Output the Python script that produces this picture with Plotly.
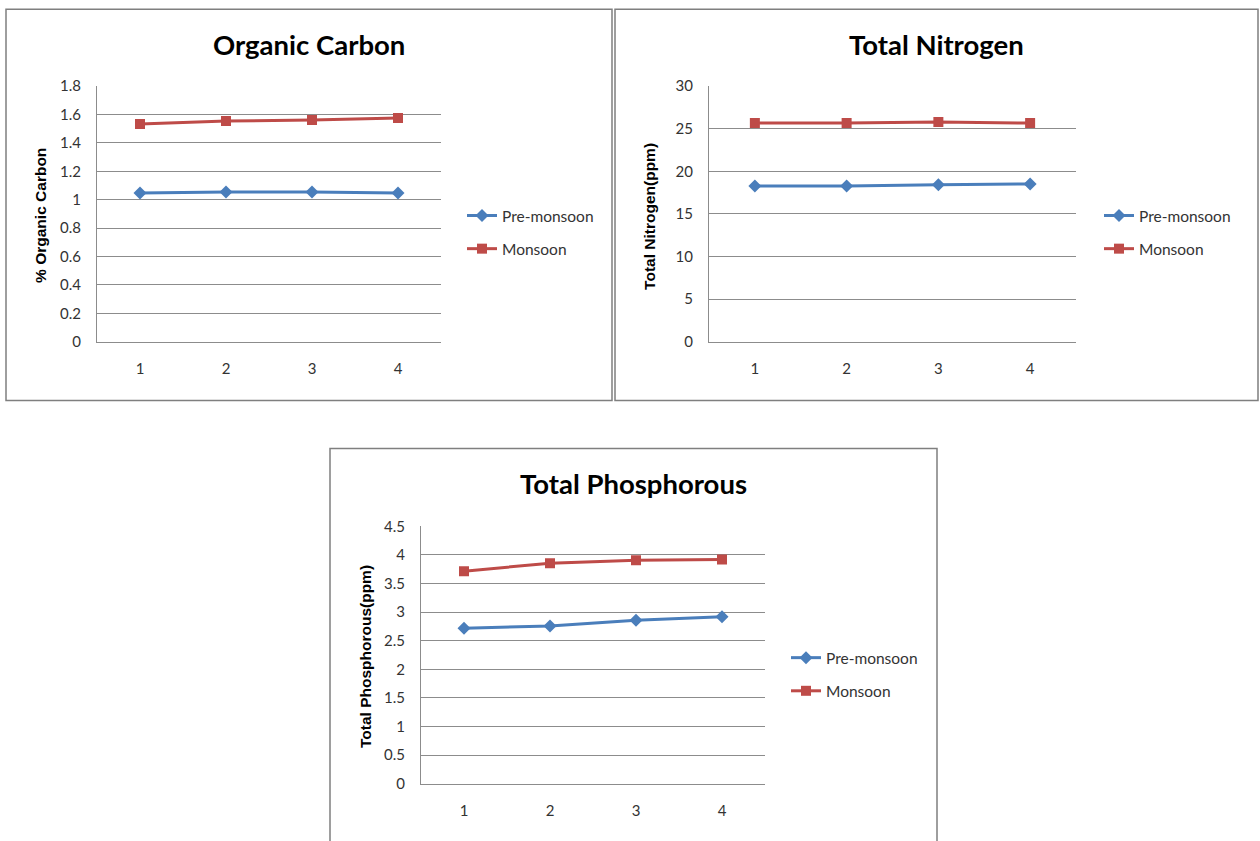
import plotly.graph_objects as go

W, H = 1260, 841

categories = [1, 2, 3, 4]
tick_labels = ["1", "2", "3", "4"]

series_names = ["Pre-monsoon", "Monsoon"]

oc_pre = [1.048, 1.054, 1.054, 1.048]
oc_mon = [1.533, 1.554, 1.561, 1.575]

tn_pre = [18.28, 18.28, 18.42, 18.52]
tn_mon = [25.66, 25.66, 25.78, 25.66]

tp_pre = [2.72, 2.756, 2.86, 2.92]
tp_mon = [3.715, 3.855, 3.905, 3.92]

titles = ["Organic Carbon", "Total Nitrogen", "Total Phosphorous"]
ytitles = ["% Organic Carbon", "Total Nitrogen(ppm)", "Total Phosphorous(ppm)"]
yranges = [(0, 1.8, 0.2), (0, 30, 5), (0, 4.5, 0.5)]

BLUE = "#4A7EBB"
RED = "#BE4B48"
GRID = "#8C8C8C"
TXT = "#333333"
FONT = "Lato, Open Sans, sans-serif"

# the rendered page maps paper height onto ~824.6 px starting ~8.7 px down
Y_OFF, Y_SPAN = 8.7, 824.6


def px(x):
    return x / W


def py(y):
    return 1 - (y - Y_OFF) / Y_SPAN


# plot-area boxes in pixels: left, right, top, bottom
boxes = [(97, 441, 85, 341), (709, 1076, 85, 341), (421, 765, 526, 784)]
panels = [(6, 612, 8, 400), (615, 1258, 8, 400), (330, 937, 448, 860)]
legend_pos = [(462, 198), (1099, 198), (786, 641)]
ytitle_x = [41, 650, 365]
ytitle_y = [215, 216, 657]

data_sets = [(oc_pre, oc_mon), (tn_pre, tn_mon), (tp_pre, tp_mon)]

fig = go.Figure()
layout = dict(
    width=W, height=H,
    margin=dict(l=0, r=0, t=0, b=0),
    paper_bgcolor="white", plot_bgcolor="white",
    showlegend=True,
    font=dict(family=FONT, size=15, color=TXT),
    shapes=[], annotations=[],
)

for i in range(3):
    xa = "x" if i == 0 else f"x{i+1}"
    ya = "y" if i == 0 else f"y{i+1}"
    lg = "legend" if i == 0 else f"legend{i+1}"
    pre, mon = data_sets[i]
    fig.add_trace(go.Scatter(
        x=categories, y=pre, name=series_names[0], mode="lines+markers",
        line=dict(color=BLUE, width=3),
        marker=dict(symbol="diamond", size=10, color=BLUE),
        xaxis=xa, yaxis=ya, legend=lg, legendgroup=f"a{i}",
    ))
    fig.add_trace(go.Scatter(
        x=categories, y=mon, name=series_names[1], mode="lines+markers",
        line=dict(color=RED, width=3),
        marker=dict(symbol="square", size=10, color=RED),
        xaxis=xa, yaxis=ya, legend=lg, legendgroup=f"b{i}",
    ))
    l, r, t, b = boxes[i]
    y0, y1, dt = yranges[i]
    layout["xaxis" if i == 0 else f"xaxis{i+1}"] = dict(
        domain=[px(l), px(r)], anchor=ya, range=[0.5, 4.5],
        tickmode="array", tickvals=categories, ticktext=tick_labels,
        showgrid=False, zeroline=False, showline=True, linecolor=GRID, linewidth=1,
        ticks="", ticklabelstandoff=13, tickfont=dict(size=15, color=TXT, family=FONT),
        fixedrange=True,
    )
    layout["yaxis" if i == 0 else f"yaxis{i+1}"] = dict(
        domain=[py(b), py(t)], anchor=xa, range=[y0, y1], dtick=dt, tick0=0,
        showgrid=True, gridcolor=GRID, gridwidth=1, zeroline=False,
        showline=True, linecolor=GRID, linewidth=1,
        ticks="", ticklabelstandoff=12, tickfont=dict(size=15, color=TXT, family=FONT),
        fixedrange=True,
    )
    lx, ly = legend_pos[i]
    layout[lg] = dict(
        x=px(lx), y=py(ly), xanchor="left", yanchor="top",
        bgcolor="rgba(0,0,0,0)", font=dict(size=15.5, color=TXT, family=FONT),
        tracegroupgap=10, itemwidth=30, traceorder="grouped",
    )
    pl, pr, pt, pb = panels[i]
    layout["shapes"].append(dict(
        type="rect", xref="paper", yref="paper",
        x0=px(pl), x1=px(pr), y0=py(pb), y1=py(pt),
        line=dict(color="#7F7F7F", width=1.5), fillcolor="rgba(0,0,0,0)", layer="below",
    ))
    layout["annotations"].append(dict(
        text=f"<b>{titles[i]}</b>", xref="paper", yref="paper",
        x=px((pl + pr) / 2), y=py(pt + 35), xanchor="center", yanchor="middle",
        showarrow=False, font=dict(size=27.5, color="black", family=FONT),
    ))
    layout["annotations"].append(dict(
        text=f"<b>{ytitles[i]}</b>", xref="paper", yref="paper",
        x=px(ytitle_x[i]), y=py(ytitle_y[i]), xanchor="center", yanchor="middle",
        textangle=-90, showarrow=False,
        font=dict(size=15.5, color="black", family="Liberation Sans, Arial, sans-serif"),
    ))

fig.update_layout(**layout)
fig.write_html("out.html")
